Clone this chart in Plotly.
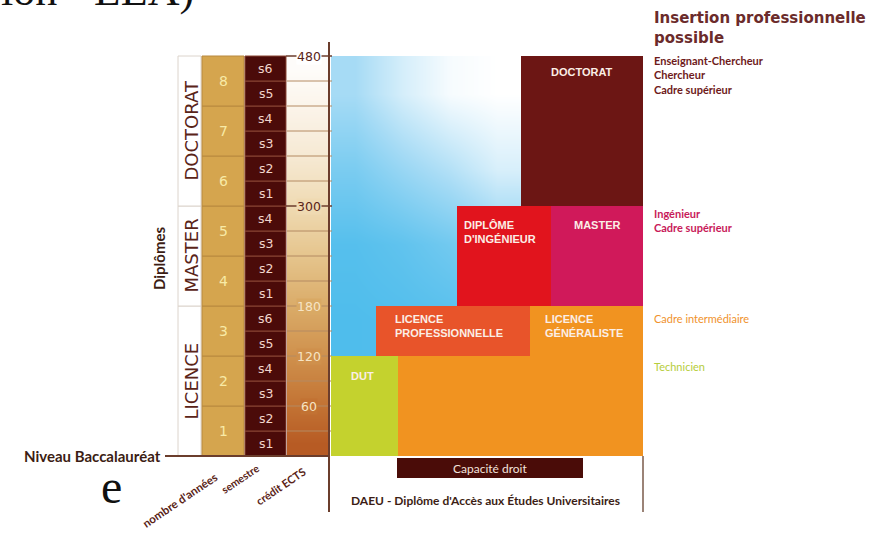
import plotly.graph_objects as go

# ---------------- data ----------------
semester_labels = ["s1", "s2", "s3", "s4", "s5", "s6",
                   "s1", "s2", "s3", "s4",
                   "s1", "s2", "s3", "s4", "s5", "s6"]
semester_start = [0, 30, 60, 90, 120, 150, 180, 210, 240, 270, 300, 330, 360, 390, 420, 450]
semester_end = [30, 60, 90, 120, 150, 180, 210, 240, 270, 300, 330, 360, 390, 420, 450, 480]

year_labels = ["1", "2", "3", "4", "5", "6", "7", "8"]
year_start = [0, 60, 120, 180, 240, 300, 360, 420]
year_end = [60, 120, 180, 240, 300, 360, 420, 480]

ects_tick_values = [60, 120, 180, 300, 480]
ects_tick_labels = ["60", "120", "180", "300", "480"]

cycle_names = ["LICENCE", "MASTER", "DOCTORAT"]
cycle_start = [0, 180, 300]
cycle_end = [180, 300, 480]

program_names = ["DUT", "LICENCE<br>PROFESSIONNELLE", "LICENCE<br>GÉNÉRALISTE",
                 "DIPLÔME<br>D'INGÉNIEUR", "MASTER", "DOCTORAT"]
program_start = [0, 120, 0, 180, 180, 300]
program_end = [120, 180, 180, 300, 300, 480]
program_step = [None, None, 120, None, None, None]   # level where the block widens

career_texts = ["Enseignant-Chercheur<br>Chercheur<br>Cadre supérieur",
                "Ingénieur<br>Cadre supérieur",
                "Cadre intermédiaire",
                "Technicien"]
career_level = [480, 300, 180, 120]

header_text = "Insertion professionnelle<br>possible"
bottom_labels = ["nombre d'années", "semestre", "crédit ECTS"]
capacite_text = "Capacité droit"
daeu_text = "DAEU - Diplôme d'Accès aux Études Universitaires"
bac_text = "Niveau Baccalauréat"
diplomes_text = "Diplômes"
page_top_text = "ion - LEA)"
page_side_text = "e"

# ---------------- layout / style ----------------
W, H = 876, 533
Y_TOP, Y_BOT = 547.2, -92.4        # y-axis range (ECTS)
def Y(px):                         # pixel row -> y value (for decorations)
    return Y_TOP - (Y_TOP - Y_BOT) * px / H

COL_CYCLE = (178, 201)
COL_YEAR = (202, 244)
COL_SEM = (245, 286)
COL_ECTS = (287, 328)
AXIS_X = 329
MAIN_R = 643

prog_x0 = [331, 376, 398, 457, 551, 521]
prog_x0_upper = [None, None, 530, None, None, None]
prog_x1 = [398, 530, 643, 551, 643, 643]
prog_color = ["#c4d22e", "#e8542a", "#f19320", "#e1141d", "#d0195a", "#6c1614"]
prog_label_x = [349, 393, 543, 462, 597, 582]
prog_label_anchor = ["left", "left", "left", "left", "center", "center"]
prog_label_shift = [-12, -5, -5, -11, -11, -8]

career_color = ["#6e1a1a", "#c81a5a", "#f0922c", "#b6cd3c"]
career_bold = [True, True, False, False]
career_shift = [4, 1, -4, -2]

tick_label_color = ["#f6e4c4", "#f6e4c4", "#f6e4c4", "#5a2418", "#5a2418"]
tick_label_bg = ["#c27233", "#cf904c", "#d9a964", "#efdab2", "#ffffff"]

ects_scale = [[0, "#b3531f"], [0.125, "#c27233"], [0.25, "#cf904c"], [0.375, "#daab68"],
              [0.5, "#e5c48c"], [0.625, "#efdab2"], [0.75, "#f6e9d3"], [0.875, "#fbf4ea"],
              [1, "#ffffff"]]
blue_scale = [[0, "#4fbdec"], [0.5, "#a6dbf5"], [1, "#ffffff"]]
blue_fade = [[0.00, 0.02, 0.05, 0.10],
             [0.04, 0.10, 0.20, 0.35],
             [0.25, 0.42, 0.58, 0.78],
             [0.50, 0.76, 0.95, 1.00]]
BLUE_X = (331, 521)
BLUE_Y = (120, 480)

DARK = "#5a2418"
BROWN_LINE = "#6b3d2c"

fig = go.Figure()

# ECTS gradient column
sem_mid = [(a + b) / 2 for a, b in zip(semester_start, semester_end)]
cw = (COL_ECTS[1] - COL_ECTS[0]) / 2
fig.add_trace(go.Heatmap(
    x=[COL_ECTS[0] + cw / 2, COL_ECTS[0] + 1.5 * cw], y=sem_mid,
    z=[[m, m] for m in sem_mid], zmin=0, zmax=480, colorscale=ects_scale,
    zsmooth="best", showscale=False, hoverinfo="skip"))

# blue background gradient
nbx = len(blue_fade[0]); nby = len(blue_fade)
bw = (BLUE_X[1] - BLUE_X[0]) / nbx
bh = (BLUE_Y[1] - BLUE_Y[0]) / nby
fig.add_trace(go.Heatmap(
    x=[BLUE_X[0] + bw * (i + 0.5) for i in range(nbx)],
    y=[BLUE_Y[0] + bh * (j + 0.5) for j in range(nby)],
    z=blue_fade, zmin=0, zmax=1, colorscale=blue_scale, zsmooth="best",
    showscale=False, hoverinfo="skip"))

shapes = []
annots = []

def rect(x0, x1, y0, y1, fill, line=None, lw=0):
    shapes.append(dict(type="rect", xref="x", yref="y", x0=x0, x1=x1, y0=y0, y1=y1,
                       fillcolor=fill, line=dict(color=line or fill, width=lw), layer="above"))

def seg(x0, x1, y0, y1, color, w):
    shapes.append(dict(type="line", xref="x", yref="y", x0=x0, x1=x1, y0=y0, y1=y1,
                       line=dict(color=color, width=w), layer="above"))

def text(x, y, t, size, color, family="DejaVu Sans", bold=False, xa="center", ya="middle",
         angle=0, yshift=0, bg=None, xref="x", yref="y"):
    d = dict(x=x, y=y, xref=xref, yref=yref, text=t, showarrow=False, xanchor=xa, yanchor=ya,
             textangle=angle, yshift=yshift, align=xa if xa in ("left", "right") else "center",
             font=dict(size=size, color=color, family=family,
                       weight="bold" if bold else "normal"))
    if bg:
        d["bgcolor"] = bg
        d["borderpad"] = 0
    annots.append(d)

# cycle boxes + labels
for n, a, b in zip(cycle_names, cycle_start, cycle_end):
    rect(COL_CYCLE[0], COL_CYCLE[1], a, b, "#ffffff", "#dcd4cc", 1)
    text((COL_CYCLE[0] + COL_CYCLE[1]) / 2 + 1, (a + b) / 2, n, 18, DARK, angle=-90)

# years
for n, a, b in zip(year_labels, year_start, year_end):
    rect(COL_YEAR[0], COL_YEAR[1], a, b, "#d5a54e", "#b8893e", 1)
    text((COL_YEAR[0] + COL_YEAR[1]) / 2, (a + b) / 2, n, 14, "#f8eaa6")

# semesters
for n, a, b in zip(semester_labels, semester_start, semester_end):
    rect(COL_SEM[0], COL_SEM[1], a, b, "#4b0b09", "#8a4634", 1)
    text((COL_SEM[0] + COL_SEM[1]) / 2, (a + b) / 2, n, 12.5, "#f2d6cc")

# ECTS separators & ticks
for b in semester_end:
    if b in (300, 480):
        seg(COL_ECTS[0] - 1, AXIS_X + 3, b, b, BROWN_LINE, 1.5)
    else:
        seg(COL_ECTS[0], AXIS_X + 3, b, b, "#b48a62", 1)
for v, lab, c, bg in zip(ects_tick_values, ects_tick_labels, tick_label_color, tick_label_bg):
    text((COL_ECTS[0] + COL_ECTS[1]) / 2 + 1, v, lab, 12.5, c, bg=bg)

# programmes
for i, n in enumerate(program_names):
    x0, x1, c = prog_x0[i], prog_x1[i], prog_color[i]
    a, b = program_start[i], program_end[i]
    if program_step[i] is not None:
        xu, s = prog_x0_upper[i], program_step[i]
        shapes.append(dict(type="path", xref="x", yref="y", layer="above",
                           path=f"M {x0},{a} L {x1},{a} L {x1},{b} L {xu},{b} L {xu},{s} L {x0},{s} Z",
                           fillcolor=c, line=dict(width=0)))
    else:
        rect(x0, x1, a, b, c)
    text(prog_label_x[i], b, n, 11, "#fbeee6", family="Liberation Sans", bold=True,
         xa=prog_label_anchor[i], ya="top", yshift=prog_label_shift[i])

# axis & base lines
seg(AXIS_X, AXIS_X, Y(512), Y(42), BROWN_LINE, 2)
seg(165, AXIS_X, 0, 0, BROWN_LINE, 2)
seg(MAIN_R, MAIN_R, Y(512), 0, "#7a5a4a", 1.5)

# Capacité droit / DAEU
rect(397, 583, Y(478), Y(458), "#4a0c08")
text(490, (Y(478) + Y(458)) / 2, capacite_text, 12, "#f3e3dc", family="Lato")
text(485, Y(500), daeu_text, 12, "#3c1d14", family="Lato", bold=True)

# left labels
text(163, 0, bac_text, 15, "#3c1d14", family="Lato", bold=True, xa="right")
text(159, Y(258), diplomes_text, 15, "#3c1d14", family="Lato", bold=True, angle=-90)
bottom_pos = [(179, 500, 11.5), (240, 479, 10.5), (280, 486, 11)]
for t, (bx, by, fs) in zip(bottom_labels, bottom_pos):
    text(bx, Y(by), t, fs, DARK, family="Lato", bold=True, angle=-34)

# right side: careers
text(652, Y(27.5), header_text, 15, "#6b2b2b", bold=True, xa="left")
for t, lvl, c, bd, sh in zip(career_texts, career_level, career_color, career_bold, career_shift):
    text(652, lvl, t, 11, c, family="Lato", bold=bd, xa="left", ya="top", yshift=sh)

# cropped page text (bits of the surrounding document)
text(-1 / W, 1 + 9 / H, page_top_text, 44, "#111111", family="Liberation Serif",
     xa="left", xref="paper", yref="paper")
text(99, Y(486), page_side_text, 48, "#111111", family="Liberation Serif", xa="left")

fig.update_layout(
    width=W, height=H, margin=dict(l=0, r=0, t=0, b=0),
    paper_bgcolor="white", plot_bgcolor="white", showlegend=False,
    xaxis=dict(range=[0, W], visible=False, fixedrange=True),
    yaxis=dict(range=[Y_BOT, Y_TOP], visible=False, fixedrange=True),
    shapes=shapes, annotations=annots,
)
fig.write_html("out.html", config={"displayModeBar": False},
               post_script="document.body.style.margin='0px';")
